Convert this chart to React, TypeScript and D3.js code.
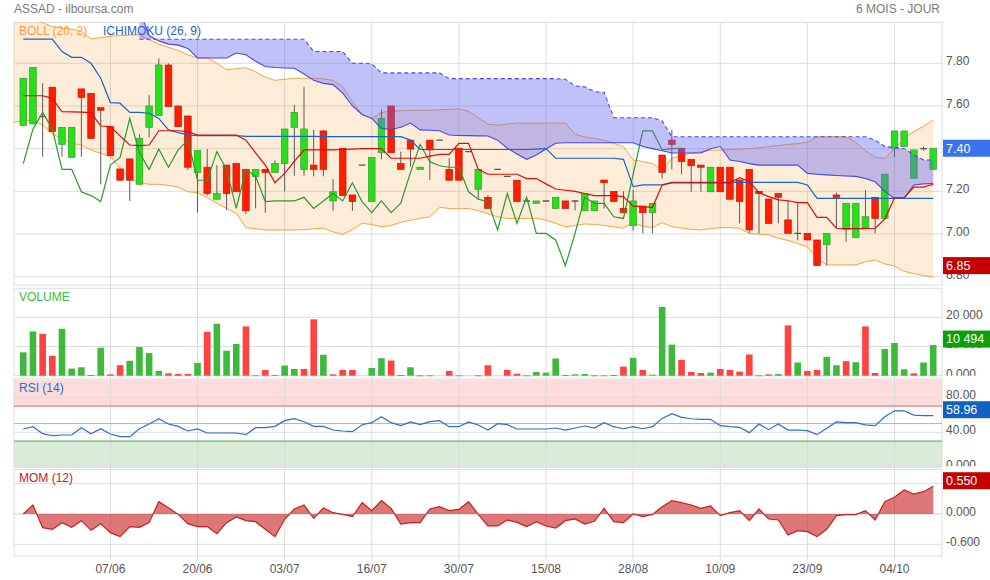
import * as d3 from "d3";

const FONT = "'Liberation Sans', Arial, Helvetica, sans-serif";

// x axis
const dateLabels = ["07/06", "20/06", "03/07", "16/07", "30/07", "15/08", "28/08", "10/09", "23/09", "04/10"];
const dateIndex = [9, 18, 27, 36, 45, 54, 63, 72, 81, 90];

// candles (95 sessions)
const open = [7.508, 7.516, 7.55, 7.688, 7.42, 7.359, 7.68, 7.659, 7.592, 7.503,
  7.305, 7.352, 7.233, 7.5, 7.555, 7.792, 7.6, 7.553, 7.289, 7.313,
  7.163, 7.323, 7.33, 7.303, 7.269, 7.303, 7.289, 7.33, 7.5, 7.303,
  7.323, 7.483, 7.155, 7.402, 7.183, 7.323, 7.152, 7.381, 7.6, 7.33,
  7.44, 7.303, 7.44, 7.44, 7.303, 7.402, 7.386, 7.209, 7.172, 7.303,
  7.27, 7.252, 7.155, 7.144, 7.155, 7.12, 7.155, 7.155, 7.109, 7.109,
  7.253, 7.2, 7.12, 7.039, 7.131, 7.1, 7.37, 7.44, 7.402, 7.35,
  7.323, 7.198, 7.313, 7.313, 7.253, 7.303, 7.2, 7.164, 7.19, 7.066,
  7.003, 7.003, 6.972, 6.95, 7.183, 7.022, 6.984, 7.03, 7.172, 7.073,
  7.402, 7.41, 7.261, 7.4, 7.303];
const close = [7.73, 7.781, 7.55, 7.48, 7.5, 7.5, 7.64, 7.448, 7.58, 7.367,
  7.252, 7.252, 7.448, 7.6, 7.792, 7.597, 7.503, 7.313, 7.392, 7.19,
  7.19, 7.19, 7.198, 7.109, 7.303, 7.289, 7.33, 7.492, 7.57, 7.492,
  7.303, 7.303, 7.198, 7.18, 7.152, 7.323, 7.359, 7.542, 7.381, 7.303,
  7.398, 7.313, 7.394, 7.44, 7.252, 7.252, 7.386, 7.303, 7.12, 7.303,
  7.27, 7.152, 7.155, 7.155, 7.155, 7.172, 7.12, 7.155, 7.19, 7.155,
  7.24, 7.152, 7.1, 7.155, 7.1, 7.144, 7.289, 7.42, 7.339, 7.32,
  7.313, 7.313, 7.198, 7.163, 7.152, 7.019, 7.19, 7.05, 7.172, 7.003,
  7.003, 6.972, 6.852, 7.003, 7.172, 7.144, 7.144, 7.081, 7.073, 7.28,
  7.483, 7.483, 7.394, 7.4, 7.402];
const high = [7.73, 7.781, 7.706, 7.688, 7.5, 7.5, 7.68, 7.659, 7.592, 7.503,
  7.305, 7.352, 7.467, 7.652, 7.823, 7.8, 7.6, 7.553, 7.392, 7.398,
  7.323, 7.323, 7.33, 7.303, 7.303, 7.303, 7.345, 7.492, 7.605, 7.69,
  7.488, 7.486, 7.256, 7.402, 7.183, 7.323, 7.359, 7.584, 7.6, 7.386,
  7.44, 7.313, 7.44, 7.44, 7.355, 7.402, 7.386, 7.303, 7.183, 7.303,
  7.27, 7.252, 7.155, 7.155, 7.155, 7.172, 7.155, 7.155, 7.19, 7.155,
  7.253, 7.2, 7.2, 7.206, 7.131, 7.144, 7.37, 7.488, 7.402, 7.35,
  7.323, 7.313, 7.313, 7.313, 7.253, 7.303, 7.2, 7.164, 7.19, 7.16,
  7.144, 7.003, 6.972, 7.003, 7.194, 7.144, 7.144, 7.206, 7.172, 7.28,
  7.483, 7.483, 7.394, 7.41, 7.402];
const low = [7.508, 7.516, 7.362, 7.48, 7.362, 7.359, 7.362, 7.448, 7.233, 7.367,
  7.252, 7.155, 7.233, 7.452, 7.555, 7.597, 7.503, 7.3, 7.1, 7.18,
  7.163, 7.113, 7.198, 7.094, 7.12, 7.1, 7.289, 7.2, 7.273, 7.273,
  7.27, 7.27, 7.109, 7.18, 7.109, 7.323, 7.152, 7.35, 7.381, 7.303,
  7.316, 7.303, 7.253, 7.44, 7.252, 7.252, 7.386, 7.163, 7.12, 7.303,
  7.27, 7.152, 7.155, 7.144, 7.155, 7.12, 7.12, 7.11, 7.109, 7.109,
  7.12, 7.152, 7.1, 7.016, 7.003, 7.003, 7.26, 7.303, 7.28, 7.198,
  7.198, 7.198, 7.198, 7.163, 7.05, 7.003, 7.003, 7.05, 7.05, 7.003,
  6.97, 6.972, 6.852, 6.852, 7.027, 6.964, 6.984, 7.03, 7.003, 7.073,
  7.36, 7.41, 7.261, 7.39, 7.303];

const volume = [8000, 15150, 14340, 6820, 16070, 2430, 2890, 230, 9590, 460,
  3580, 5090, 9830, 7750, 1620, 810, 580, 580, 4390, 15030,
  17800, 8560, 10870, 16880, 120, 1970, 230, 3470, 2310, 2310,
  19310, 7170, 460, 1970, 1970, 0, 2660, 6010, 5200, 230,
  2890, 100, 100, 0, 1620, 100, 0, 100, 3580, 0,
  1970, 690, 100, 1270, 1040, 5900, 230, 460, 580, 100,
  100, 230, 3120, 6130, 1970, 350, 23580, 10640, 5430, 1270,
  925, 1040, 2310, 1970, 1390, 7280, 100, 460, 580, 17220,
  4510, 1620, 1970, 6470, 3580, 4970, 4620, 16880, 925, 9130,
  11210, 2200, 810, 4510, 10494];

// bollinger (20, 2), first value is one session before the first candle
const bollUpper = [8.03, 8.02, 8.0, 7.99, 7.972, 7.965, 7.96, 7.95, 7.915, 7.92,
  7.927, 7.93, 7.932, 7.934, 7.91, 7.89, 7.875, 7.86, 7.84, 7.825,
  7.825, 7.8, 7.77, 7.775, 7.78, 7.76, 7.735, 7.72, 7.725, 7.73,
  7.73, 7.73, 7.727, 7.72, 7.69, 7.62, 7.56, 7.54, 7.57, 7.575,
  7.578, 7.58, 7.58, 7.58, 7.582, 7.584, 7.586, 7.575, 7.545, 7.515,
  7.51, 7.515, 7.52, 7.52, 7.52, 7.52, 7.52, 7.52, 7.468, 7.455,
  7.448, 7.44, 7.425, 7.41, 7.347, 7.34, 7.33, 7.3, 7.355, 7.37,
  7.378, 7.386, 7.392, 7.394, 7.396, 7.398, 7.4, 7.404, 7.41, 7.415,
  7.42, 7.423, 7.43, 7.456, 7.456, 7.456, 7.456, 7.43, 7.39, 7.36,
  7.355, 7.4, 7.45, 7.48, 7.505, 7.534];
const bollLower = [7.523, 7.53, 7.534, 7.51, 7.47, 7.445, 7.425, 7.417, 7.394, 7.378,
  7.363, 7.308, 7.26, 7.24, 7.233, 7.233, 7.228, 7.22, 7.198, 7.194,
  7.17, 7.144, 7.12, 7.097, 7.03, 7.025, 7.019, 7.019, 7.019, 7.019,
  7.02, 7.025, 7.027, 7.01, 6.998, 7.02, 7.05, 7.045, 7.034, 7.04,
  7.055, 7.065, 7.073, 7.08, 7.125, 7.12, 7.118, 7.12, 7.109, 7.095,
  7.08, 7.073, 7.073, 7.073, 7.073, 7.065, 7.05, 7.034, 7.04, 7.047,
  7.045, 7.04, 7.034, 7.027, 7.053, 7.037, 7.03, 7.053, 7.034, 7.028,
  7.022, 7.019, 7.025, 7.03, 7.03, 7.027, 7.003, 7.0, 6.996, 6.98,
  6.97, 6.955, 6.94, 6.886, 6.855, 6.855, 6.855, 6.855, 6.87, 6.878,
  6.86, 6.85, 6.825, 6.815, 6.805, 6.8];

// ichimoku (26, 9)
const tenkan = [7.648, 7.648, 7.648, 7.636, 7.573, 7.572, 7.571, 7.569, 7.506, 7.503,
  7.46, 7.417, 7.414, 7.417, 7.484, 7.484, 7.484, 7.48, 7.464, 7.464,
  7.464, 7.464, 7.464, 7.44, 7.38, 7.323, 7.24, 7.284, 7.34, 7.394,
  7.394, 7.394, 7.394, 7.396, 7.398, 7.4, 7.4, 7.4, 7.355, 7.355,
  7.355, 7.355, 7.365, 7.373, 7.373, 7.425, 7.425, 7.303, 7.28, 7.28,
  7.28, 7.28, 7.26, 7.26, 7.235, 7.211, 7.205, 7.2, 7.19, 7.18,
  7.18, 7.18, 7.175, 7.131, 7.128, 7.125, 7.23, 7.24, 7.24, 7.24,
  7.24, 7.24, 7.24, 7.24, 7.264, 7.245, 7.194, 7.175, 7.16, 7.156,
  7.147, 7.147, 7.078, 7.078, 7.027, 7.025, 7.025, 7.025, 7.027, 7.07,
  7.17, 7.17, 7.22, 7.22, 7.233];
const kijun = [7.913, 7.913, 7.913, 7.913, 7.855, 7.828, 7.828, 7.8, 7.73, 7.616,
  7.613, 7.57, 7.57, 7.566, 7.542, 7.488, 7.475, 7.465, 7.461, 7.461,
  7.461, 7.461, 7.461, 7.458, 7.458, 7.458, 7.458, 7.458, 7.458, 7.458,
  7.458, 7.456, 7.456, 7.456, 7.456, 7.456, 7.456, 7.456, 7.456, 7.456,
  7.44, 7.396, 7.396, 7.396, 7.396, 7.396, 7.396, 7.396, 7.396, 7.396,
  7.396, 7.396, 7.396, 7.398, 7.4, 7.355, 7.355, 7.355, 7.355, 7.355,
  7.355, 7.355, 7.35, 7.222, 7.23, 7.23, 7.23, 7.242, 7.242, 7.242,
  7.242, 7.242, 7.242, 7.242, 7.242, 7.242, 7.242, 7.242, 7.242, 7.242,
  7.242, 7.23, 7.167, 7.167, 7.167, 7.167, 7.167, 7.167, 7.167, 7.167,
  7.167, 7.167, 7.167, 7.167, 7.167];
// cloud starts at session 12
const CLOUD_START = 12;
const spanA = [8.05, 7.93, 7.905, 7.89, 7.885, 7.87, 7.825, 7.825, 7.825, 7.825,
  7.848, 7.84, 7.81, 7.785, 7.78, 7.778, 7.777, 7.75, 7.72, 7.706,
  7.7, 7.66, 7.6, 7.56, 7.542, 7.495, 7.49, 7.5, 7.52, 7.488,
  7.486, 7.484, 7.464, 7.462, 7.461, 7.46, 7.459, 7.44, 7.402, 7.375,
  7.35, 7.37, 7.398, 7.425, 7.428, 7.428, 7.428, 7.428, 7.428, 7.428,
  7.428, 7.428, 7.41, 7.4, 7.39, 7.38, 7.38, 7.38, 7.38, 7.4,
  7.41, 7.347, 7.34, 7.33, 7.323, 7.323, 7.323, 7.323, 7.323, 7.284,
  7.28, 7.277, 7.274, 7.272, 7.27, 7.26, 7.245, 7.2, 7.167, 7.167,
  7.23, 7.235, 7.237];
const spanB = [7.913, 7.913, 7.913, 7.913, 7.913, 7.913, 7.913, 7.913, 7.913, 7.913,
  7.913, 7.913, 7.913, 7.913, 7.913, 7.913, 7.913, 7.913, 7.855, 7.855,
  7.855, 7.855, 7.8, 7.8, 7.797, 7.755, 7.755, 7.755, 7.755, 7.755,
  7.755, 7.755, 7.728, 7.728, 7.728, 7.728, 7.728, 7.728, 7.728, 7.728,
  7.728, 7.728, 7.728, 7.728, 7.725, 7.694, 7.69, 7.667, 7.664, 7.545,
  7.545, 7.545, 7.545, 7.545, 7.53, 7.456, 7.456, 7.456, 7.456, 7.456,
  7.456, 7.456, 7.456, 7.456, 7.456, 7.456, 7.456, 7.456, 7.456, 7.456,
  7.456, 7.456, 7.456, 7.456, 7.456, 7.456, 7.44, 7.41, 7.405, 7.4,
  7.37, 7.347, 7.347];
// chikou = close plotted 26 sessions back
const chikou = close.slice(26);

const rsi = [43.8, 46.4, 38.4, 36.1, 36.9, 36.9, 45.3, 38.4, 44.1, 38.1,
  35.0, 35.0, 44.1, 49.5, 55.6, 49.5, 46.8, 41.5, 43.8, 39.2,
  39.2, 39.2, 39.2, 37.3, 45.3, 45.3, 46.8, 53.3, 55.6, 52.1,
  46.8, 46.8, 42.6, 41.5, 40.7, 48.7, 51.0, 57.8, 51.0, 47.6,
  51.8, 48.7, 52.1, 53.3, 46.4, 46.4, 51.8, 48.4, 42.6, 49.9,
  48.7, 43.8, 43.8, 43.8, 43.8, 44.9, 42.6, 44.9, 47.2, 44.9,
  51.0, 46.4, 44.1, 46.4, 44.1, 46.4, 55.9, 61.2, 57.0, 55.5,
  54.8, 54.8, 47.6, 46.4, 45.7, 39.6, 49.5, 43.0, 49.5, 42.6,
  42.6, 41.9, 37.3, 44.5, 51.8, 51.0, 51.0, 48.4, 47.6, 57.8,
  64.6, 64.6, 59.6, 59.0, 58.96];

const mom = [0, 0.178, -0.27, -0.303, -0.171, -0.264, -0.132, -0.323, -0.191, -0.369,
  -0.448, -0.25, -0.264, -0.171, 0.244, 0.125, -0.007, -0.191, -0.25, -0.25,
  -0.389, -0.171, -0.059, -0.132, -0.152, -0.303, -0.448, -0.105, 0.099, 0.178,
  -0.086, 0.119, 0.026, -0.007, -0.053, 0.224, 0.066, 0.264, 0.112, -0.198,
  -0.171, -0.171, 0.099, 0.145, 0.066, 0.092, 0.244, -0.007, -0.237, -0.237,
  -0.119, -0.165, -0.25, -0.152, -0.237, -0.277, -0.132, -0.099, -0.198, -0.145,
  0.112, -0.152, -0.171, 0, -0.053, -0.007, 0.145, 0.264, 0.224, 0.178,
  0.112, 0.158, -0.033, 0.026, 0.066, -0.132, 0.099, -0.099, -0.119, -0.415,
  -0.33, -0.349, -0.448, -0.303, -0.033, -0.013, -0.013, 0.066, -0.119, 0.244,
  0.33, 0.475, 0.396, 0.442, 0.55];

// axis ticks
const priceTicks = [6.8, 7.0, 7.2, 7.4, 7.6, 7.8];
const volTicks = [0, 10000, 20000];
const volTickLabels = ["0.000", "10 000", "20 000"];
const rsiTicks = [0, 40, 80];
const rsiTickLabels = ["0.000", "40.00", "80.00"];
const momTicks = [-0.6, 0, 0.6];
const momTickLabels = ["-0.600", "0.000", "0.600"];

// layout
const L = 14, R = 942;
const P = { top: 22.3, bottom: 285 };
const V = { top: 288.3, bottom: 375.7 };
const RS = { top: 379, bottom: 466.3 };
const M = { top: 469.3, bottom: 556 };

const x = d3.scaleLinear().domain([-1, 95]).range([13.6, 942.9]);
const yP = d3.scaleLinear().domain([6.8, 7.8]).range([276.7, 63.3]);
const yV = d3.scaleLinear().domain([0, 20000]).range([375.7, 317.3]);
const yR = d3.scaleLinear().domain([0, 100]).range([467.3, 379.8]);
const yM = d3.scaleLinear().domain([-0.6, 0.6]).range([544.3, 483.7]);

const GRID = "#dcdcdc";
const GREEN = "#27e01c";
const RED = "#ff1e00";

function ValueBox({ y, text, fill }: { y: number; text: string; fill: string }) {
  return (
    <g>
      <rect x={943} y={y - 8.5} width={47} height={17} fill={fill} />
      <text x={946} y={y + 4.3} fill="#fff" fontSize={12.5} fontFamily={FONT}>{text}</text>
    </g>
  );
}

export default function App() {
  const idx = d3.range(close.length);

  const bandArea = d3.area<number>()
    .x((k) => x(k - 1))
    .y0((k) => yP(bollLower[k]))
    .y1((k) => yP(bollUpper[k]));
  const bandIdx = d3.range(bollUpper.length);
  const upperLine = d3.line<number>().x((k) => x(k - 1)).y((k) => yP(bollUpper[k]));
  const lowerLine = d3.line<number>().x((k) => x(k - 1)).y((k) => yP(bollLower[k]));

  const cloudIdx = d3.range(spanA.length);
  const cloudArea = d3.area<number>()
    .x((k) => x(k + CLOUD_START))
    .y0((k) => yP(spanB[k]))
    .y1((k) => yP(spanA[k]));
  const spanALine = d3.line<number>().x((k) => x(k + CLOUD_START)).y((k) => yP(spanA[k]));
  const spanBLine = d3.line<number>().x((k) => x(k + CLOUD_START)).y((k) => yP(spanB[k]));

  const seriesLine = (arr: number[], y: d3.ScaleLinear<number, number>) =>
    d3.line<number>().x((_, i) => x(i)).y((v) => y(v))(arr) ?? "";

  const momArea = d3.area<number>().x((_, i) => x(i)).y0(yM(0)).y1((v) => yM(v));

  const lastClose = close[close.length - 1];
  const lowest = d3.min(low) as number;
  const lastVol = volume[volume.length - 1];
  const lastRsi = rsi[rsi.length - 1];
  const lastMom = mom[mom.length - 1];

  const bw = 6.6;

  return (
    <svg width={990} height={580} style={{ position: "absolute", left: 0, top: 0, background: "#fff" }}
      fontFamily={FONT}>
      <defs>
        <clipPath id="cp-price"><rect x={L} y={P.top} width={R - L} height={P.bottom - P.top} /></clipPath>
        <clipPath id="cp-rsi"><rect x={L} y={RS.top} width={R - L} height={RS.bottom - RS.top} /></clipPath>
        <clipPath id="cp-mom"><rect x={L} y={M.top} width={R - L} height={M.bottom - M.top} /></clipPath>
        <clipPath id="lb-price"><rect x={0} y={P.top} width={990} height={P.bottom - P.top} /></clipPath>
        <clipPath id="lb-vol"><rect x={0} y={V.top} width={990} height={V.bottom - V.top} /></clipPath>
        <clipPath id="lb-rsi"><rect x={0} y={RS.top} width={990} height={RS.bottom - RS.top} /></clipPath>
        <clipPath id="lb-mom"><rect x={0} y={M.top} width={990} height={M.bottom - M.top} /></clipPath>
      </defs>

      {/* header */}
      <text x={14} y={13} fontSize={12} fill="#7a7a7a">ASSAD - ilboursa.com</text>
      <text x={940} y={13} fontSize={12} fill="#7a7a7a" textAnchor="end">6 MOIS - JOUR</text>

      {/* RSI zones */}
      <g clipPath="url(#cp-rsi)">
        <rect x={L} y={yR(100)} width={R - L} height={yR(70) - yR(100)} fill="rgba(240,80,80,0.2)" />
        <rect x={L} y={yR(30)} width={R - L} height={yR(0) - yR(30)} fill="rgba(60,160,60,0.2)" />
      </g>

      {/* horizontal grid */}
      {priceTicks.map((t) => (
        <line key={"pg" + t} x1={L} x2={R} y1={yP(t)} y2={yP(t)} stroke={GRID} />
      ))}
      {volTicks.map((t) => (
        <line key={"vg" + t} x1={L} x2={R} y1={yV(t)} y2={yV(t)} stroke={GRID} />
      ))}
      {rsiTicks.map((t) => (
        <line key={"rg" + t} x1={L} x2={R} y1={yR(t)} y2={yR(t)} stroke={GRID} />
      ))}
      {momTicks.map((t) => (
        <line key={"mg" + t} x1={L} x2={R} y1={yM(t)} y2={yM(t)} stroke={t === 0 ? "#cfcfcf" : GRID} />
      ))}

      {/* panel frames */}
      {[P, V, RS, M].map((p, i) => (
        <rect key={"fr" + i} x={L} y={p.top} width={R - L} height={p.bottom - p.top} fill="none" stroke={GRID} />
      ))}

      {/* vertical grid + dates */}
      {dateIndex.map((di, k) => (
        <g key={"d" + di}>
          <line x1={x(di)} x2={x(di)} y1={P.top} y2={M.bottom + 4} stroke={GRID} />
          <text x={x(di)} y={573} fontSize={12} fill="#555" textAnchor="middle">{dateLabels[k]}</text>
        </g>
      ))}

      {/* price panel */}
      <g clipPath="url(#cp-price)">
        <path d={bandArea(bandIdx) ?? ""} fill="rgba(247,163,60,0.2)" />
        <path d={upperLine(bandIdx) ?? ""} fill="none" stroke="#f7a43c" strokeWidth={1} />
        <path d={lowerLine(bandIdx) ?? ""} fill="none" stroke="#f7a43c" strokeWidth={1} />

        {idx.map((i) => {
          const o = open[i], c = close[i];
          const cx = x(i);
          const doji = Math.abs(o - c) < 0.0005;
          const top = yP(Math.max(o, c));
          const h = Math.max(1, yP(Math.min(o, c)) - top);
          return (
            <g key={"c" + i}>
              <line x1={cx} x2={cx} y1={yP(high[i])} y2={yP(low[i])} stroke="#5a5a5a" strokeWidth={1} />
              {doji ? (
                <line x1={cx - bw / 2} x2={cx + bw / 2} y1={yP(c)} y2={yP(c)} stroke="#555" strokeWidth={1.4} />
              ) : (
                <rect x={cx - bw / 2} y={top} width={bw} height={h}
                  fill={c > o ? GREEN : RED} stroke={c > o ? "#3a9a30" : "#c01a10"} strokeWidth={0.7} />
              )}
            </g>
          );
        })}

        <path d={d3.line<number>().x((_, i) => x(i)).y((v) => yP(v))(chikou) ?? ""}
          fill="none" stroke="#2a9a2a" strokeWidth={1.2} />

        <path d={cloudArea(cloudIdx) ?? ""} fill="rgba(100,100,240,0.4)" />
        <path d={spanALine(cloudIdx) ?? ""} fill="none" stroke="#4646f0" strokeWidth={1.1} />
        <path d={spanBLine(cloudIdx) ?? ""} fill="none" stroke="#4646f0" strokeWidth={1.1} strokeDasharray="4,3" />

        <path d={seriesLine(kijun, yP)} fill="none" stroke="#1565c8" strokeWidth={1.2} />
        <path d={seriesLine(tenkan, yP)} fill="none" stroke="#dd0a0a" strokeWidth={1.2} />
      </g>

      {/* volume */}
      {idx.map((i) =>
        volume[i] > 0 ? (
          <rect key={"v" + i} x={x(i) - bw / 2} y={yV(volume[i])} width={bw}
            height={Math.max(0.8, yV(0) - yV(volume[i]))}
            fill={i === 0 || close[i] >= close[i - 1] ? "#3dba3d" : "#ff4242"} />
        ) : null
      )}

      {/* RSI */}
      <g clipPath="url(#cp-rsi)">
        <line x1={L} x2={R} y1={yR(70)} y2={yR(70)} stroke="#e06060" />
        <line x1={L} x2={R} y1={yR(50)} y2={yR(50)} stroke="#8cbcf0" />
        <line x1={L} x2={R} y1={yR(30)} y2={yR(30)} stroke="#5aa55a" />
        <path d={seriesLine(rsi, yR)} fill="none" stroke="#2a6fd0" strokeWidth={1.2} />
      </g>

      {/* MOM */}
      <g clipPath="url(#cp-mom)">
        <path d={momArea(mom) ?? ""} fill="rgba(200,30,30,0.6)" />
        <path d={seriesLine(mom, yM)} fill="none" stroke="#c81e1e" strokeWidth={1.2} />
      </g>

      {/* right axis labels */}
      <g clipPath="url(#lb-price)" fontSize={12} fill="#555">
        {priceTicks.map((t) => (
          <text key={"pl" + t} x={946} y={yP(t) + 1.8}>{t.toFixed(2)}</text>
        ))}
      </g>
      <g clipPath="url(#lb-vol)" fontSize={12} fill="#555">
        {volTicks.map((t, k) => (
          <text key={"vl" + t} x={946} y={yV(t) + 1.8}>{volTickLabels[k]}</text>
        ))}
      </g>
      <g clipPath="url(#lb-rsi)" fontSize={12} fill="#555">
        {rsiTicks.map((t, k) => (
          <text key={"rl" + t} x={946} y={yR(t) + 1.8}>{rsiTickLabels[k]}</text>
        ))}
      </g>
      <g clipPath="url(#lb-mom)" fontSize={12} fill="#555">
        {momTicks.map((t, k) => (
          <text key={"ml" + t} x={946} y={yM(t) + 1.8}>{momTickLabels[k]}</text>
        ))}
      </g>

      {/* panel titles */}
      <text x={19} y={34.5} fontSize={12} fill="#f5a040">BOLL (20, 2)</text>
      <text x={103} y={34.5} fontSize={12} fill="#2563c0">ICHIMOKU (26, 9)</text>
      <text x={19} y={300.7} fontSize={12} fill="#3cbc3c">VOLUME</text>
      <text x={19} y={392.3} fontSize={12} fill="#2a6acc">RSI (14)</text>
      <text x={19} y={481.7} fontSize={12} fill="#c02020">MOM (12)</text>

      {/* last value boxes */}
      <ValueBox y={yP(lastClose)} text={lastClose.toFixed(2)} fill="#3b72ee" />
      <ValueBox y={yP(lowest)} text={lowest.toFixed(2)} fill="#c40000" />
      <ValueBox y={yV(lastVol) - 6} text={d3.format(",")(lastVol).replace(",", " ")} fill="#0ba00b" />
      <ValueBox y={yR(lastRsi) - 6} text={lastRsi.toFixed(2)} fill="#1160c4" />
      <ValueBox y={yM(lastMom) - 5.5} text={lastMom.toFixed(3)} fill="#c40000" />
    </svg>
  );
}
